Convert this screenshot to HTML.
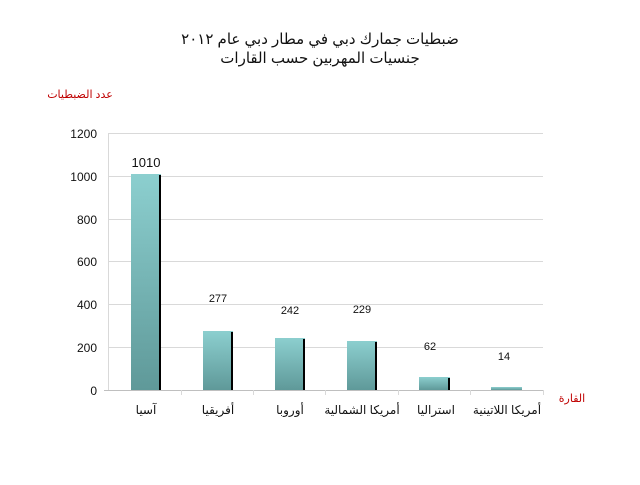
<!DOCTYPE html>
<html><head><meta charset="utf-8"><style>body{margin:0;background:#fff}</style></head><body>
<svg width="640" height="480" xmlns="http://www.w3.org/2000/svg" font-family="Liberation Sans, DejaVu Sans, sans-serif">
<defs><linearGradient id="g" x1="0" y1="0" x2="0" y2="1"><stop offset="0" stop-color="#8ccfcf"/><stop offset="1" stop-color="#5f9999"/></linearGradient></defs>
<text x="320" y="44" font-size="15" text-anchor="middle" fill="#111">ضبطيات جمارك دبي في مطار دبي عام ٢٠١٢</text>
<text x="320" y="63" font-size="15" text-anchor="middle" fill="#111">جنسيات المهربين حسب القارات</text>
<text x="80" y="98" font-size="11" text-anchor="middle" fill="#c00000">عدد الضبطيات</text>
<text x="572" y="402" font-size="11" text-anchor="middle" fill="#c00000">القارة</text>
<g stroke="#d9d9d9" stroke-width="1">
<line x1="108" y1="133.5" x2="543" y2="133.5"/><line x1="108" y1="176.5" x2="543" y2="176.5"/><line x1="108" y1="219.5" x2="543" y2="219.5"/><line x1="108" y1="261.5" x2="543" y2="261.5"/><line x1="108" y1="304.5" x2="543" y2="304.5"/><line x1="108" y1="347.5" x2="543" y2="347.5"/>
<line x1="108.5" y1="133" x2="108.5" y2="390"/>
<line x1="104" y1="390.5" x2="543" y2="390.5" stroke="#bfbfbf"/>
<line x1="181.5" y1="390" x2="181.5" y2="395"/><line x1="253.5" y1="390" x2="253.5" y2="395"/><line x1="325.5" y1="390" x2="325.5" y2="395"/><line x1="398.5" y1="390" x2="398.5" y2="395"/><line x1="470.5" y1="390" x2="470.5" y2="395"/><line x1="543.5" y1="390" x2="543.5" y2="395"/>
</g>
<g font-size="12" text-anchor="end" fill="#111">
<text x="97" y="138">1200</text><text x="97" y="181">1000</text><text x="97" y="224">800</text><text x="97" y="266">600</text><text x="97" y="309">400</text><text x="97" y="352">200</text><text x="97" y="395">0</text>
</g>
<g>
<rect x="131" y="174" width="30" height="216" fill="url(#g)"/><rect x="159" y="175" width="2" height="215" fill="#000"/>
<rect x="203" y="331" width="30" height="59" fill="url(#g)"/><rect x="231" y="332" width="2" height="58" fill="#000"/>
<rect x="275" y="338" width="30" height="52" fill="url(#g)"/><rect x="303" y="339" width="2" height="51" fill="#000"/>
<rect x="347" y="341" width="30" height="49" fill="url(#g)"/><rect x="375" y="342" width="2" height="48" fill="#000"/>
<rect x="419" y="377" width="31" height="13" fill="url(#g)"/><rect x="448" y="378" width="2" height="12" fill="#000"/>
<rect x="491" y="387" width="31" height="3" fill="url(#g)"/>
</g>
<g text-anchor="middle" fill="#111">
<text x="146" y="167" font-size="13">1010</text>
<text x="218" y="302" font-size="11">277</text>
<text x="290" y="314" font-size="11">242</text>
<text x="362" y="313" font-size="11">229</text>
<text x="430" y="350" font-size="11">62</text>
<text x="504" y="360" font-size="11">14</text>
</g>
<g font-size="12" text-anchor="middle" fill="#111">
<text x="146" y="414">آسيا</text><text x="218" y="414">أفريقيا</text><text x="290" y="414">أوروبا</text><text x="362" y="414">أمريكا الشمالية</text><text x="436" y="414">استراليا</text><text x="507" y="414">أمريكا اللاتينية</text>
</g>
</svg>
</body></html>
